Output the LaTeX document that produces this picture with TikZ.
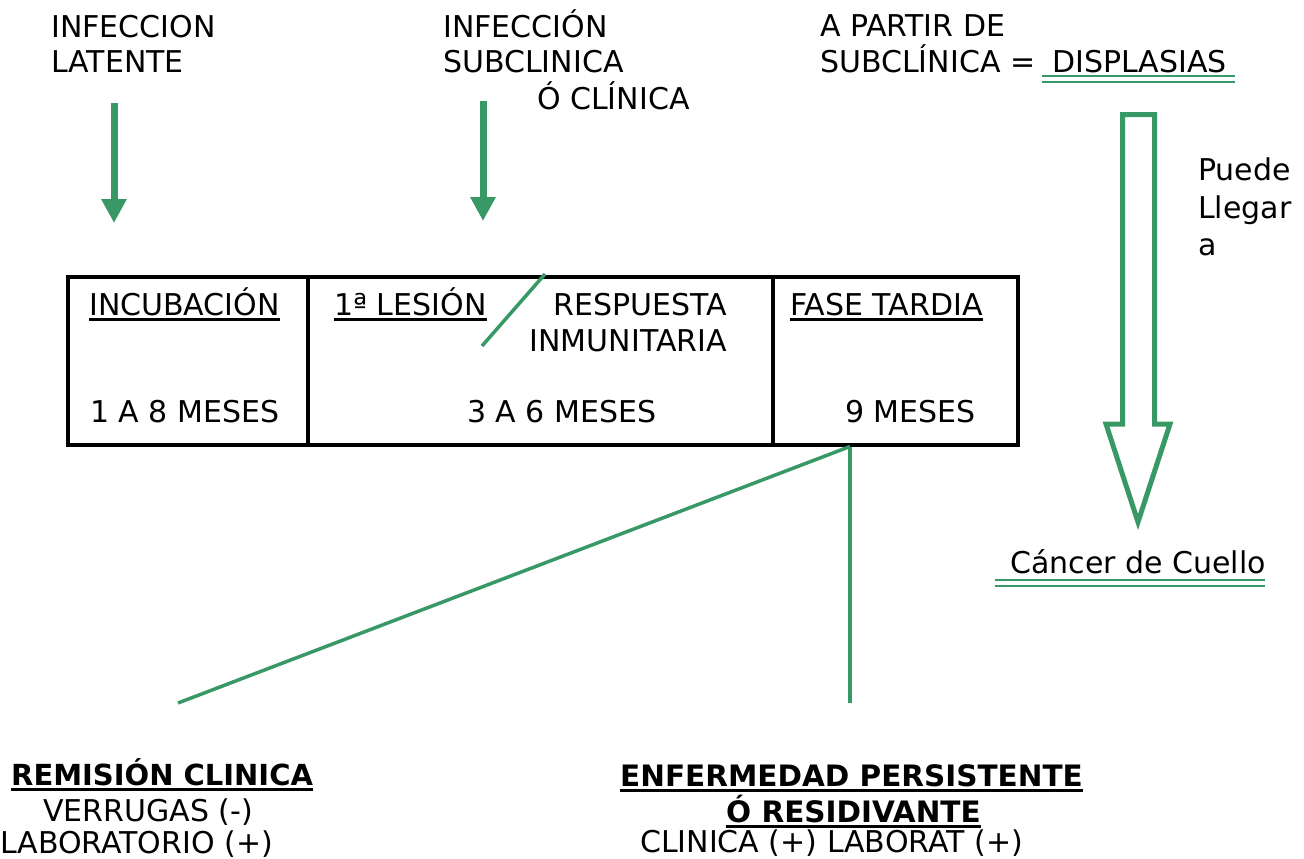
\documentclass[tikz,border=0pt]{standalone}
\usepackage{fontspec}
\usepackage{tikz}
\usetikzlibrary{arrows.meta, calc}
\setmainfont{DejaVu Sans}
\definecolor{hpvgreen}{RGB}{56,152,102}

\tikzset{
  lbl/.style={inner sep=0pt, anchor=base west, font=\fontsize{30}{36}\selectfont},
  cell/.style={draw, line width=4pt, anchor=north west, inner sep=0pt, minimum height=168pt},
  grn/.style={draw=hpvgreen, line width=3.5pt},
  greendown/.style={draw=hpvgreen, line width=7pt, -{Triangle[length=24pt, width=24pt]}},
  uline/.style={line width=2.5pt},
  dline/.style={draw=hpvgreen, line width=2pt}
}

\begin{document}
\begin{tikzpicture}[x=1pt, y=1pt]
    \useasboundingbox (0,0) rectangle (1304,-859);

    % top labels
    \node[lbl] (lat1) at (51,-38) {INFECCION};
    \node[lbl] (lat2) at (51,-73) {LATENTE};
    \node[lbl] (sub1) at (443,-38) {INFECCIÓN};
    \node[lbl] (sub2) at (443,-73) {SUBCLINICA};
    \node[lbl] (sub3) at (537,-109) {Ó CLÍNICA};
    \node[lbl] (par1) at (820,-37) {A PARTIR DE};
    \node[lbl] (par2) at (820,-73) {SUBCLÍNICA =};
    \node[lbl] (dis) at (1052,-73) {DISPLASIAS};
    \draw[dline] (1042,-76) -- (1235,-76);
    \draw[dline] (1042,-82) -- (1235,-82);

    % arrows down to the box
    \coordinate (latS) at (114,-103);
    \coordinate (latE) at (114,-223);
    \coordinate (subS) at (483,-101);
    \coordinate (subE) at (483,-221);
    \draw[greendown] (latS) -- (latE);
    \draw[greendown] (subS) -- (subE);

    % hollow arrow to cancer
    \draw[hpvgreen, line width=5pt, line join=miter]
      (1122.5,-114.5) -- (1154.5,-114.5) -- (1154.5,-424) -- (1170,-424)
      -- (1138,-522) -- (1106,-424) -- (1122.5,-424) -- cycle;
    \node[lbl] (pue1) at (1198,-180) {Puede};
    \node[lbl] (pue2) at (1198,-218) {Llegar};
    \node[lbl] (pue3) at (1198,-255) {a};
    \node[lbl] (can) at (1010,-573) {Cáncer de Cuello};
    \draw[dline] (995,-580) -- (1265,-580);
    \draw[dline] (995,-586) -- (1265,-586);

    % the three phases
    \node[cell, minimum width=240pt] (inc) at (65.5,-274.5) {};
    \node[cell, minimum width=465pt] (les) at (305.5,-274.5) {};
    \node[cell, minimum width=245pt] (tar) at (770.5,-274.5) {};
    \node[lbl] (incT) at (89,-315) {INCUBACIÓN};
    \node[lbl] (lesT) at (334,-315) {1ª LESIÓN};
    \node[lbl, anchor=base east] (resp1) at (727,-315) {RESPUESTA};
    \node[lbl, anchor=base east] (resp2) at (727,-351) {INMUNITARIA};
    \node[lbl] (tarT) at (790,-315) {FASE TARDIA};
    \foreach \n in {incT, lesT, tarT}
      \draw[uline] ($(\n.base west)+(0,-4.5)$) -- ($(\n.base east)+(0,-4.5)$);
    \draw[grn] (482,-346) -- (545,-274);
    \node[lbl] (m1) at (90,-422) {1 A 8 MESES};
    \node[lbl] (m2) at (467,-422) {3 A 6 MESES};
    \node[lbl] (m3) at (845,-422) {9 MESES};

    % outcomes
    \coordinate (fork) at ($(tar.south west)+(79.5,0)$);
    \coordinate (remTop) at (178,-703);
    \coordinate (enfTop) at (850,-703);
    \draw[grn] (fork) -- (remTop);
    \draw[grn] (fork) -- (enfTop);

    \node[lbl, font=\bfseries\fontsize{29}{35}\selectfont] (rem) at (11,-785) {REMISIÓN CLINICA};
    \node[lbl] (ver) at (43,-821) {VERRUGAS (-)};
    \node[lbl] (lab) at (0,-853) {LABORATORIO (+)};
    \node[lbl, font=\bfseries\fontsize{29.5}{36}\selectfont] (enf) at (620,-786) {ENFERMEDAD PERSISTENTE};
    \node[lbl, font=\bfseries\fontsize{29.5}{36}\selectfont] (res) at (726,-822) {Ó RESIDIVANTE};
    \node[lbl] (cli) at (640,-852) {CLINICA (+) LABORAT (+)};
    \foreach \n in {rem, enf, res}
      \draw[uline] ($(\n.base west)+(0,-4.5)$) -- ($(\n.base east)+(0,-4.5)$);
\end{tikzpicture}
\end{document}
